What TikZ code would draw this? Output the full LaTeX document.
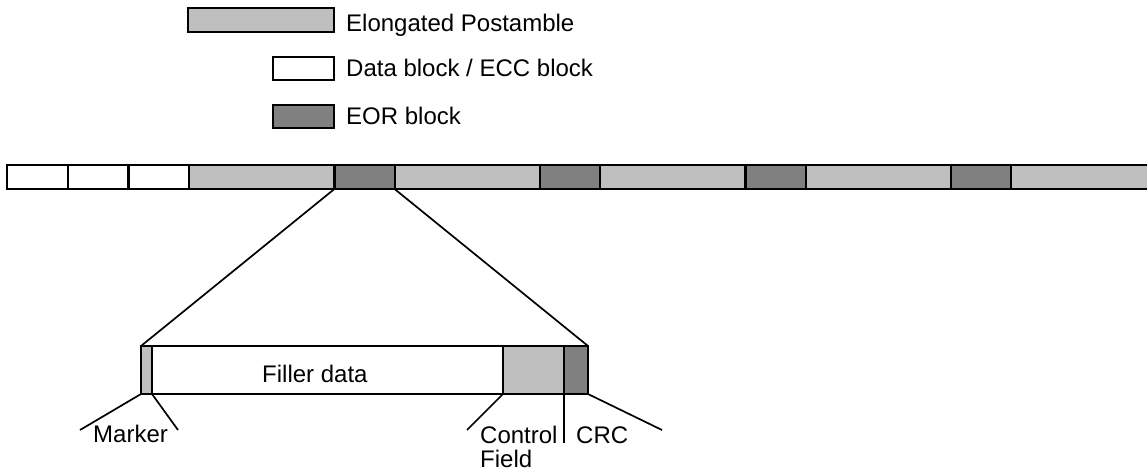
\documentclass[tikz,border=0pt]{standalone}
\usepackage{fontspec}
\setmainfont{Liberation Sans}
\usetikzlibrary{positioning}
\definecolor{postgray}{gray}{0.75}
\definecolor{eorgray}{gray}{0.5}
\tikzstyle{block} = [rectangle, draw=black, inner sep=0pt, outer sep=0pt, minimum height=24pt, line width=2.2pt]
\tikzstyle{datablock} = [block, fill=white, minimum width=60.7pt]
\tikzstyle{postblock} = [block, fill=postgray, minimum width=145.3pt]
\tikzstyle{eorblock} = [block, fill=eorgray, minimum width=60.2pt]
\tikzstyle{key} = [rectangle, draw=black, inner sep=0pt, outer sep=0pt, minimum width=61pt, minimum height=23pt, line width=1.8pt]
\tikzstyle{field} = [rectangle, draw=black, inner sep=0pt, outer sep=0pt, minimum height=48pt, line width=1.8pt]
\tikzstyle{txt} = [inner sep=0pt, anchor=base west, align=left, font=\fontsize{24}{24}\selectfont]
\tikzstyle{line} = [line width=1.7pt]

\begin{document}
\begin{tikzpicture}[x=1pt, y=-1pt]

    \useasboundingbox (0,0) rectangle (1147,471);
    \clip (0,0) rectangle (1147,471);

    % Legend
    \node (postkey) [key, fill=postgray, minimum width=146pt, minimum height=24pt] at (261,20) {};
    \node (datakey) [key, fill=white] at (303.5,68.5) {};
    \node (eorkey) [key, fill=eorgray] at (303.5,116.5) {};
    \node (posttext) [txt] at (346,31.5) {Elongated Postamble};
    \node (datatext) [txt] at (346,76) {Data block / ECC block};
    \node (eortext) [txt] at (346,124) {EOR block};

    % Tape
    \node (d1) [datablock, anchor=west] at (7,177) {};
    \node (d2) [datablock, right=0pt of d1] {};
    \node (d3) [datablock, right=0pt of d2] {};
    \node (p1) [postblock, right=0pt of d3] {};
    \node (e1) [eorblock, right=0pt of p1] {};
    \node (p2) [postblock, right=0pt of e1] {};
    \node (e2) [eorblock, right=0pt of p2] {};
    \node (p3) [postblock, right=0pt of e2] {};
    \node (e3) [eorblock, right=0pt of p3] {};
    \node (p4) [postblock, right=0pt of e3] {};
    \node (e4) [eorblock, right=0pt of p4] {};
    \node (p5) [postblock, right=0pt of e4] {};

    % EOR block in detail
    \node (marker) [field, fill=postgray, minimum width=11pt, anchor=west] at (141,370) {};
    \node (filler) [field, fill=white, minimum width=351pt, right=0pt of marker] {};
    \node (control) [field, fill=postgray, minimum width=61pt, right=0pt of filler] {};
    \node (crc) [field, fill=eorgray, minimum width=24pt, right=0pt of control] {};
    \node (fillertext) [txt] at (262,382.7) {Filler data};

    % Zoom lines
    \draw [line] (e1.south west) -- (marker.north west);
    \draw [line] (e1.south east) -- (crc.north east);

    % Field labels
    \coordinate (markerleft) at (80,430);
    \coordinate (markerright) at (178,430);
    \coordinate (controlend) at (467,430);
    \coordinate (crcend) at (564,443);
    \coordinate (crcright) at (662,430);
    \draw [line] (marker.south west) -- (markerleft);
    \draw [line] (marker.south east) -- (markerright);
    \draw [line] (filler.south east) -- (controlend);
    \draw [line] (crc.south west) -- (crcend);
    \draw [line] (crc.south east) -- (crcright);
    \node (markertext) [txt] at (93,442) {Marker};
    \node (controltext) [txt] at (480,467) {Control\\Field};
    \node (crctext) [txt] at (576,443) {CRC};

\end{tikzpicture}
\end{document}
